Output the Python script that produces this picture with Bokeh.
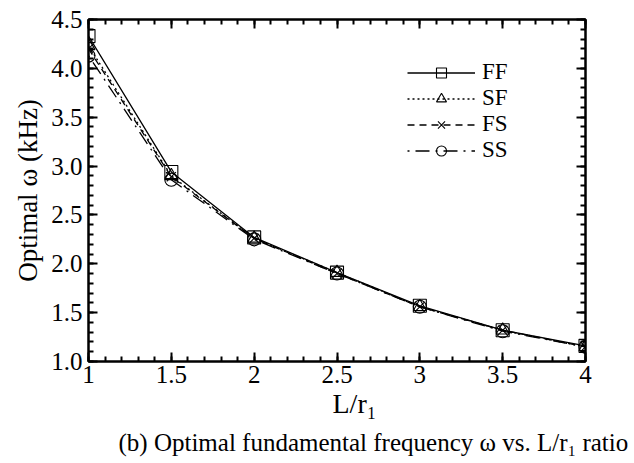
from bokeh.plotting import figure
from bokeh.models import (Range1d, SingleIntervalTicker, LinearAxis, Legend, LegendItem,
                          Title, PrintfTickFormatter)
from bokeh.embed import file_html
from bokeh.resources import INLINE

# ---- data ----
ratio = [1, 1.5, 2, 2.5, 3, 3.5, 4]
ff = [4.33, 2.94, 2.27, 1.91, 1.57, 1.32, 1.16]
sf = [4.23, 2.90, 2.26, 1.91, 1.56, 1.32, 1.15]
fs = [4.20, 2.89, 2.26, 1.90, 1.56, 1.32, 1.15]
ss = [4.13, 2.86, 2.25, 1.90, 1.56, 1.31, 1.15]
series_names = ["FF", "SF", "FS", "SS"]
x_tick_labels = ["1", "1.5", "2", "2.5", "3", "3.5", "4"]
x_label = "L/r\u2081"
y_label = "Optimal \u03c9 (kHz)"
caption = "(b) Optimal fundamental frequency \u03c9 vs. L/r\u2081 ratio"

FONT = "Liberation Serif"

p = figure(width=634, height=463, output_backend="svg", toolbar_location=None,
           x_range=Range1d(1, 4), y_range=Range1d(1, 4.5),
           min_border_left=88, min_border_right=49, min_border_top=19, min_border_bottom=102)
p.grid.visible = False
p.outline_line_color = "black"
p.outline_line_width = 2
p.background_fill_color = "white"
p.border_fill_color = "white"

def style_axis(ax, labels=True):
    ax.axis_line_width = 2
    ax.axis_line_color = "black"
    ax.major_tick_in = 9
    ax.major_tick_out = 0
    ax.minor_tick_in = 5
    ax.minor_tick_out = 0
    ax.major_tick_line_width = 2
    ax.minor_tick_line_width = 2
    ax.major_label_text_font = FONT
    if labels:
        ax.major_label_text_font_size = "25px"
        ax.major_label_text_color = "black"
    else:
        ax.major_label_text_font_size = "1px"
        ax.major_label_text_color = None

p.xaxis.ticker = SingleIntervalTicker(interval=0.5, num_minor_ticks=5)
p.yaxis.ticker = SingleIntervalTicker(interval=0.5, num_minor_ticks=5)
style_axis(p.xaxis[0])
style_axis(p.yaxis[0])
p.xaxis.major_label_overrides = {v: s for v, s in zip(ratio, x_tick_labels)}
p.yaxis.formatter = PrintfTickFormatter(format="%.1f")
p.xaxis.major_label_standoff = 4
p.yaxis.major_label_standoff = 6

top = LinearAxis(ticker=SingleIntervalTicker(interval=0.5, num_minor_ticks=5))
right = LinearAxis(ticker=SingleIntervalTicker(interval=0.5, num_minor_ticks=5))
style_axis(top, labels=False)
style_axis(right, labels=False)
p.add_layout(top, "above")
p.add_layout(right, "right")

dashes = ["solid", "2 3", "7 5", "2 6 14 6"]
markers = ["square", "triangle", "x", "circle"]
legend_bottoms = [276, 250, 224, 198]
for name, ys, dash, mk, lb in zip(series_names, [ff, sf, fs, ss], dashes, markers, legend_bottoms):
    ln = p.line(ratio, ys, line_color="black", line_width=1.3, line_dash=dash)
    sc = p.scatter(ratio, ys, marker=mk, size=13, line_color="black", line_width=1.1,
                   fill_alpha=0)
    lg = Legend(items=[LegendItem(label=name, renderers=[ln, sc])], location=(319, lb),
                glyph_width=68, glyph_height=25, label_height=25, spacing=0, padding=0,
                margin=0, label_standoff=7, label_text_font=FONT,
                label_text_font_size="23px", label_text_color="black",
                background_fill_alpha=0, border_line_color=None)
    p.add_layout(lg)

yt = Title(text=y_label, align="center", offset=-9, text_font=FONT, text_font_size="27px",
           text_font_style="normal", text_color="black", standoff=12)
p.add_layout(yt, "left")
xt = Title(text=x_label, align="left", offset=244, text_font=FONT, text_font_size="28px",
           text_font_style="normal", text_color="black", standoff=0)
p.add_layout(xt, "below")
cap = Title(text=caption, align="left", offset=30, text_font=FONT, text_font_size="25px",
            text_font_style="normal", text_color="black", standoff=16)
p.add_layout(cap, "below")

open("out.html", "w").write(file_html(p, INLINE))
